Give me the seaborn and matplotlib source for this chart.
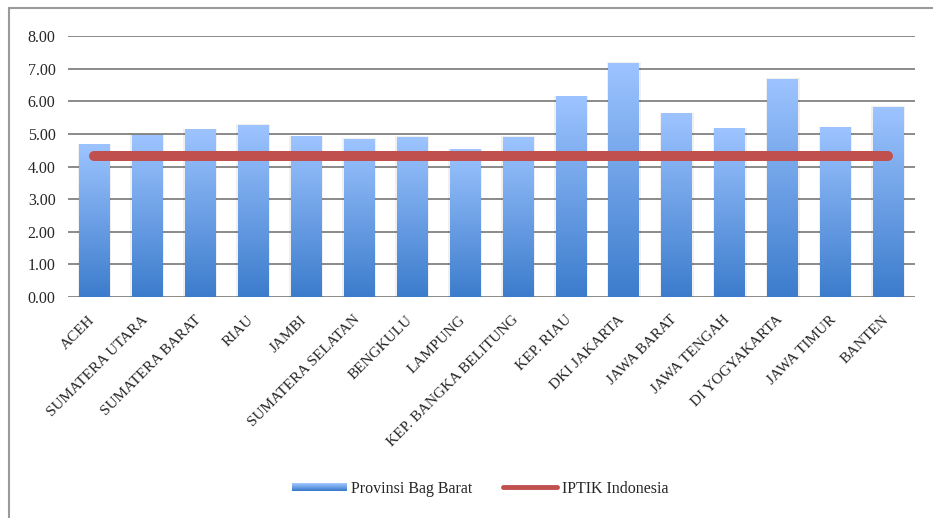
import numpy as np
import pandas as pd
import seaborn as sns
import matplotlib.pyplot as plt
from matplotlib.lines import Line2D
from matplotlib.patches import Rectangle
from matplotlib.legend_handler import HandlerBase
from matplotlib.transforms import ScaledTranslation

# data
provinces = ["ACEH", "SUMATERA UTARA", "SUMATERA BARAT", "RIAU", "JAMBI",
             "SUMATERA SELATAN", "BENGKULU", "LAMPUNG", "KEP. BANGKA BELITUNG",
             "KEP. RIAU", "DKI JAKARTA", "JAWA BARAT", "JAWA TENGAH",
             "DI YOGYAKARTA", "JAWA TIMUR", "BANTEN"]
values = [4.66, 4.95, 5.12, 5.25, 4.91, 4.82, 4.88, 4.51, 4.88,
          6.13, 7.15, 5.61, 5.15, 6.66, 5.18, 5.80]
iptik = 4.31
yticks = [0, 1, 2, 3, 4, 5, 6, 7, 8]

df = pd.DataFrame({"prov": provinces, "val": values, "iptik": [iptik] * len(provinces)})

sns.set_style("white")
plt.rcParams["font.family"] = ["Liberation Serif", "DejaVu Serif"]

top_col = np.array([157, 196, 255]) / 255
bot_col = np.array([60, 124, 204]) / 255
red = "#C0504D"
fs = 11.5

fig = plt.figure(figsize=(9.33, 5.18), dpi=100)
ax = fig.add_axes([0.0729, 0.4266, 0.9077, 0.5039])

sns.barplot(data=df, x="prov", y="val", color="#6fa0e8", width=0.58, ax=ax, zorder=3)

# gradient fill on each bar
grad = np.linspace(0, 1, 256)[:, None, None]
grad_img = top_col * (1 - grad) + bot_col * grad
for p in list(ax.patches):
    x0, y0 = p.get_x(), p.get_y()
    w, h = p.get_width(), p.get_height()
    # soft shadow on both sides
    ax.add_patch(Rectangle((x0 - 0.03, y0), w + 0.06, h + 0.04, facecolor="#000000",
                           alpha=0.06, edgecolor="none", zorder=2.5))
    ax.imshow(grad_img, extent=[x0, x0 + w, y0, y0 + h], aspect="auto",
              origin="upper", zorder=3.2)
    p.set_visible(False)

sns.lineplot(data=df, x="prov", y="iptik", color=red, linewidth=7.2, ax=ax,
             zorder=4, solid_capstyle="round")

ax.set_xlim(-0.5, len(provinces) - 0.5)
ax.set_ylim(0, 8)
ax.set_yticks(yticks)
ax.set_yticklabels([f"{t:.2f}" for t in yticks], fontsize=fs)
ax.yaxis.grid(True, color="#8a8a8a", linewidth=1.4, zorder=0)
ax.set_axisbelow(True)
for s in ax.spines.values():
    s.set_visible(False)
ax.tick_params(axis="both", length=0)
ax.tick_params(axis="y", pad=9)
ax.set_xlabel("")
ax.set_ylabel("")
ax.set_xticks(range(len(provinces)))
ax.set_xticklabels(provinces, rotation=45, ha="right", va="bottom",
                   rotation_mode="anchor", fontsize=11)
ax.tick_params(axis="x", pad=11)
shift = ScaledTranslation(3 / 100, -10 / 100, fig.dpi_scale_trans)
for lab in ax.get_xticklabels():
    lab.set_transform(lab.get_transform() + shift)


class GradientHandler(HandlerBase):
    def create_artists(self, legend, orig_handle, xdescent, ydescent, width, height,
                       fontsize, trans):
        arts = []
        n = 8
        hh = height * 0.7
        y_start = (height - hh) / 2 - ydescent
        for i in range(n):
            f = i / (n - 1)
            c = top_col * (1 - f) + bot_col * f
            r = Rectangle((-xdescent, y_start + hh * (1 - (i + 1) / n)), width, hh / n,
                          facecolor=c, edgecolor="none", transform=trans)
            arts.append(r)
        return arts


bar_handle = Rectangle((0, 0), 1, 1)
line_handle = Line2D([0], [0], color=red, linewidth=3.5, solid_capstyle="round")
fig.legend([bar_handle, line_handle], ["Provinsi Bag Barat", "IPTIK Indonesia"],
           handler_map={Rectangle: GradientHandler()},
           loc="center", bbox_to_anchor=(0.515, 0.056), ncol=2, frameon=False,
           fontsize=fs, handlelength=3.4, handletextpad=0.3, columnspacing=1.9)

# outer chart frame (left and top edges visible)
fig.add_artist(Line2D([0.0096, 0.0096], [0, 0.9846], color="#9a9a9a", linewidth=1.5,
                      transform=fig.transFigure))
fig.add_artist(Line2D([0.0096, 1], [0.9846, 0.9846], color="#9a9a9a", linewidth=1.5,
                      transform=fig.transFigure))

fig.savefig("out.png", dpi=100)
